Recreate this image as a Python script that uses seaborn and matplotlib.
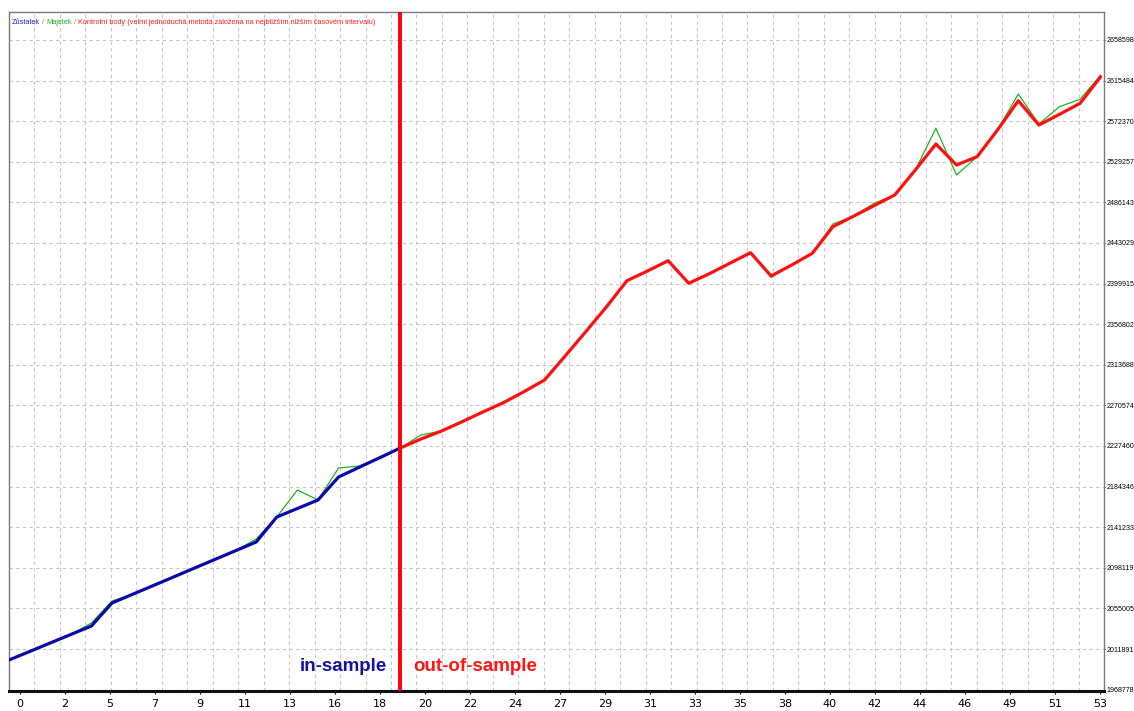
import matplotlib
matplotlib.use('Agg')
import matplotlib.pyplot as plt
import seaborn as sns
import pandas as pd

# Trade numbers (x axis)
trades = list(range(54))

# Balance, in-sample part (trades 0..19)
balance_in = [2000210, 2009236, 2018262, 2027289, 2036315, 2060738, 2069977, 2079215,
              2088454, 2097799, 2107037, 2116276, 2125514, 2152062, 2161088, 2170114,
              2194538, 2204838, 2215032, 2225333]

# Balance, out-of-sample part (trades 19..53)
balance_out = [2225333, 2234890, 2243385, 2253261, 2263561, 2273436, 2285117, 2297542,
               2323028, 2348832, 2375061, 2402989, 2413289, 2424226, 2400228, 2410422,
               2421572, 2432722, 2407980, 2419661, 2432084, 2460330, 2471480, 2482736,
               2493994, 2520541, 2548151, 2525851, 2534665, 2563336, 2594131, 2568307,
               2579670, 2591350, 2619616]

# Equity (trades 0..53)
equity = [2000210, 2009236, 2018262, 2027289, 2039500, 2062862, 2069977, 2079215,
          2088454, 2097799, 2107037, 2116276, 2128700, 2152062, 2180733, 2170114,
          2204095, 2206219, 2215032, 2225333, 2239138, 2243385, 2253261, 2263561,
          2273436, 2285117, 2297542, 2323028, 2348832, 2375061, 2402989, 2413289,
          2424226, 2400228, 2410422, 2421572, 2432722, 2406599, 2419661, 2432084,
          2463199, 2471480, 2485180, 2493994, 2520541, 2564822, 2515232, 2534665,
          2563336, 2601246, 2569389, 2587759, 2595617, 2621422]

split_trade = 19

# Axis labels
y_ticks = [1968778, 2011891, 2055005, 2098119, 2141233, 2184346, 2227460, 2270574,
           2313688, 2356802, 2399915, 2443029, 2486143, 2529257, 2572370, 2615484, 2658598]
x_labels = ['0', '2', '5', '7', '9', '11', '13', '16', '18', '20', '22', '24', '27',
            '29', '31', '33', '35', '38', '40', '42', '44', '46', '49', '51', '53']

df_eq = pd.DataFrame({'trade': trades, 'value': equity})
df_in = pd.DataFrame({'trade': trades[:split_trade + 1], 'value': balance_in})
df_out = pd.DataFrame({'trade': trades[split_trade:], 'value': balance_out})

sns.set_style('white')
plt.rcParams['font.family'] = ['DejaVu Sans']

W, H = 1134, 711
fig = plt.figure(figsize=(W / 100, H / 100), dpi=100)
ax = fig.add_axes([9 / W, 20.3 / H, 1095 / W, 678.7 / H])

grid_kw = dict(color='#c6c6c6', linestyle=(0, (3, 3)), linewidth=0.8)

# lines: equity under balance
sns.lineplot(data=df_eq, x='trade', y='value', ax=ax, color='#22b022', linewidth=0.9,
             estimator=None, sort=False, zorder=3)
sns.lineplot(data=df_in, x='trade', y='value', ax=ax, color='#0a0aa8', linewidth=2.3,
             estimator=None, sort=False, zorder=4)
sns.lineplot(data=df_out, x='trade', y='value', ax=ax, color='#ff1010', linewidth=2.3,
             estimator=None, sort=False, zorder=4)
ax.axvline(split_trade, color='#ff0000', linewidth=2.8, zorder=5)

xmax = 53.16
ax.set_xlim(0, xmax)
ax.set_ylim(1967610, 2688320)

# y axis on the right
ax.yaxis.tick_right()
ax.set_yticks(y_ticks)
ax.set_yticklabels([str(v) for v in y_ticks], fontsize=5.1, family='Liberation Sans')
ax.tick_params(axis='y', length=1, pad=0.6, colors='#000000', right=True)

# x axis labels at evenly spaced pixel positions
x_pos = [0.534 + 2.1845 * j for j in range(len(x_labels))]
ax.set_xticks(x_pos)
ax.set_xticklabels(x_labels, fontsize=8)
ax.tick_params(axis='x', length=2, pad=4, colors='#000000', bottom=True)
ax.set_xticks([xmax * k / 43 for k in range(1, 43)], minor=True)
ax.tick_params(axis='x', which='minor', length=0)
ax.set_xlabel('')
ax.set_ylabel('')

ax.grid(True, axis='y', which='major', **grid_kw)
ax.grid(True, axis='x', which='minor', **grid_kw)
ax.grid(False, axis='x', which='major')
ax.set_axisbelow(True)

for side in ['left', 'top', 'right']:
    ax.spines[side].set_color('#7a7a7a')
    ax.spines[side].set_linewidth(1.0)
ax.spines['bottom'].set_color('#101010')
ax.spines['bottom'].set_linewidth(2.2)

# in-sample / out-of-sample labels
ax.text(18.35, 1992800, 'in-sample', ha='right', va='center', fontsize=13.5,
        fontweight='bold', color='#1414a0', family='Liberation Sans', zorder=6)
ax.text(19.62, 1992800, 'out-of-sample', ha='left', va='center', fontsize=13.5,
        fontweight='bold', color='#ff1414', family='Liberation Sans', zorder=6)

# multi-coloured header line
pieces = [('Zůstatek', '#2020d0'), (' / ', '#808080'), ('Majetek', '#20b020'),
          (' / ', '#808080'),
          ('Kontrolní body (velmi jednoduchá metoda založena na nejbližším nižším časovém intervalu)',
           '#ff2020')]
renderer = fig.canvas.get_renderer()
x_px = 12
for txt, col in pieces:
    t = fig.text(x_px / W, 1 - 22 / H, txt, color=col, fontsize=5.3, va='center', ha='left',
                 family='Liberation Sans')
    bb = t.get_window_extent(renderer=renderer)
    x_px += bb.width

fig.savefig('out.png', dpi=100)
